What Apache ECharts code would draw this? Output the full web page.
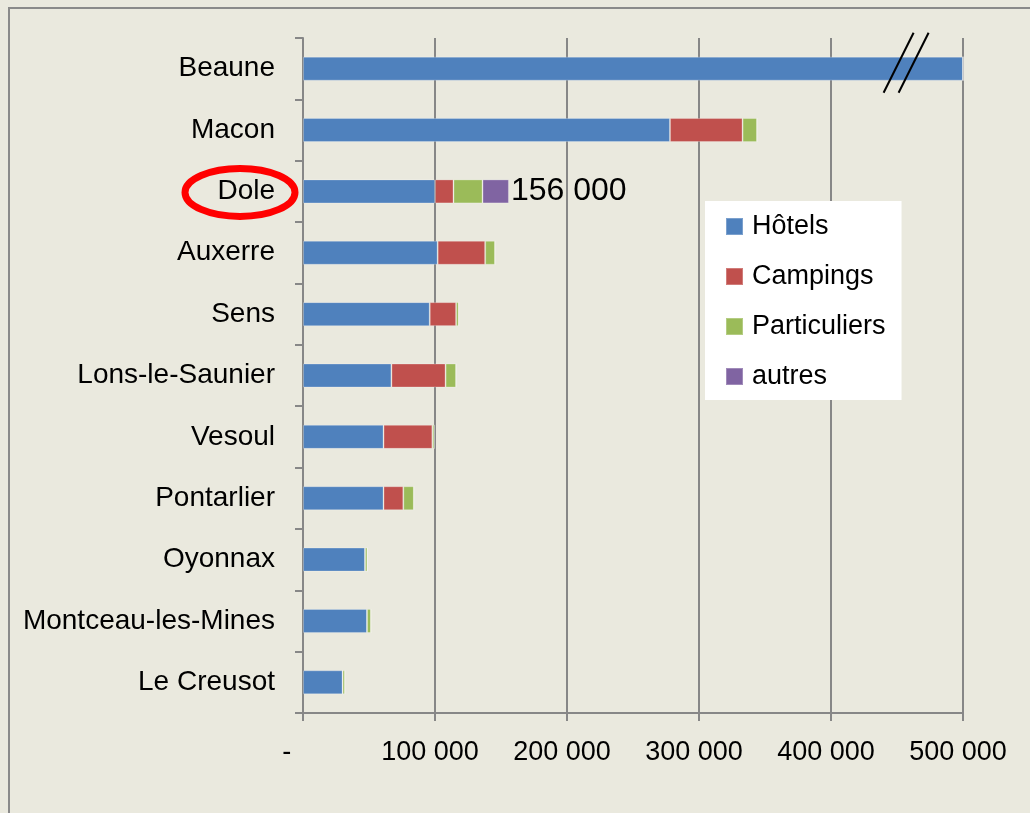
<!DOCTYPE html>
<html>
<head>
<meta charset="utf-8">
<script src="https://cdn.jsdelivr.net/npm/echarts@6/dist/echarts.min.js"></script>
<style>
  html, body { margin: 0; padding: 0; background: #eae9de; }
  #chart { width: 1030px; height: 813px; }
</style>
</head>
<body>
<div id="chart"></div>
<script>
// villes, du haut vers le bas
var categories = ['Beaune', 'Macon', 'Dole', 'Auxerre', 'Sens', 'Lons-le-Saunier', 'Vesoul', 'Pontarlier', 'Oyonnax', 'Montceau-les-Mines', 'Le Creusot'];
var hotels = [500000, 278000, 100000, 102000, 96000, 67000, 61000, 61000, 47000, 48500, 30000];
var campings = [0, 55000, 14000, 36000, 20000, 41000, 37000, 15000, 0, 0, 0];
var particuliers = [0, 11000, 22000, 7500, 2000, 8000, 1500, 8000, 1800, 3000, 1800];
var autres = [0, 0, 20000, 0, 0, 0, 0, 0, 0, 0, 0];
var seriesNames = ['Hôtels', 'Campings', 'Particuliers', 'autres'];
var xTickLabels = ['-   ', '100 000', '200 000', '300 000', '400 000', '500 000'];
var highlightCity = 'Dole';

var font = 'Liberation Sans';
var gray = '#878787';

var chart = echarts.init(document.getElementById('chart'));

function fmt(n) {
  return String(n).replace(/\B(?=(\d{3})+(?!\d))/g, ' ');
}

function total(i) {
  return hotels[i] + campings[i] + particuliers[i] + autres[i];
}

var hi = categories.indexOf(highlightCity);

// label total seulement pour Dole
var autresData = autres.map(function (v, i) {
  if (i !== hi) return v;
  return {
    value: v,
    label: {
      show: true,
      position: 'right',
      distance: 2,
      formatter: function () { return fmt(total(hi)); },
      fontFamily: font,
      fontSize: 32,
      color: '#000'
    }
  };
});

function bar(name, data, color) {
  return {
    name: name,
    type: 'bar',
    stack: 'total',
    barWidth: 24,
    data: data,
    itemStyle: { color: color, borderColor: 'rgba(255,255,255,0.25)', borderWidth: 1 },
    emphasis: { disabled: true }
  };
}

chart.setOption({
  backgroundColor: '#eae9de',
  animation: false,
  color: ['#4f81bd', '#c0504d', '#9bbb59', '#8064a2'],
  grid: { left: 303, right: 67, top: 38, bottom: 100 },
  legend: {
    orient: 'vertical',
    left: 705,
    top: 201,
    data: seriesNames,
    icon: 'rect',
    itemWidth: 17,
    itemHeight: 17,
    itemGap: 19,
    padding: [10, 16, 8, 20],
    backgroundColor: '#ffffff',
    textStyle: { fontFamily: font, fontSize: 27, color: '#000', lineHeight: 31, padding: [0, 0, 0, 4] }
  },
  xAxis: {
    type: 'value',
    min: 0,
    max: 500000,
    interval: 100000,
    axisLine: { show: true, lineStyle: { color: gray, width: 2 } },
    axisTick: { show: true, length: 8, lineStyle: { color: gray, width: 2 } },
    splitLine: { show: true, lineStyle: { color: gray, width: 2 } },
    axisLabel: {
      margin: 26,
      fontFamily: font,
      fontSize: 27,
      color: '#000',
      padding: [0, 10, 0, 0],
      formatter: function (v) { return xTickLabels[Math.round(v / 100000)]; }
    }
  },
  yAxis: {
    type: 'category',
    inverse: true,
    data: categories,
    axisLine: { show: true, lineStyle: { color: gray, width: 2 } },
    axisTick: { show: true, length: 8, lineStyle: { color: gray, width: 2 } },
    axisLabel: { margin: 28, fontFamily: font, fontSize: 28, color: '#000' }
  },
  series: [
    bar(seriesNames[0], hotels, '#4f81bd'),
    bar(seriesNames[1], campings, '#c0504d'),
    bar(seriesNames[2], particuliers, '#9bbb59'),
    bar(seriesNames[3], autresData, '#8064a2')
  ]
});

// annotations : cadre, ellipse rouge autour de Dole, coupure sur Beaune
var doleY = chart.convertToPixel({ yAxisIndex: 0 }, highlightCity);
var beauneY = chart.convertToPixel({ yAxisIndex: 0 }, categories[0]);
var brk = chart.convertToPixel({ xAxisIndex: 0 }, 455000);

chart.setOption({
  graphic: [
    {
      type: 'rect',
      shape: { x: 9, y: 8, width: 1100, height: 900 },
      style: { fill: null, stroke: '#8a8a8a', lineWidth: 2 },
      silent: true
    },
    {
      type: 'ellipse',
      shape: { cx: 240, cy: doleY + 1, rx: 55, ry: 24 },
      style: { fill: null, stroke: '#ff0000', lineWidth: 7 },
      silent: true,
      z: 100
    },
    {
      type: 'line',
      shape: { x1: brk - 20, y1: beauneY + 24, x2: brk + 10, y2: beauneY - 36 },
      style: { stroke: '#000', lineWidth: 2 },
      silent: true,
      z: 100
    },
    {
      type: 'line',
      shape: { x1: brk - 5, y1: beauneY + 24, x2: brk + 25, y2: beauneY - 36 },
      style: { stroke: '#000', lineWidth: 2 },
      silent: true,
      z: 100
    }
  ]
});
</script>
</body>
</html>
